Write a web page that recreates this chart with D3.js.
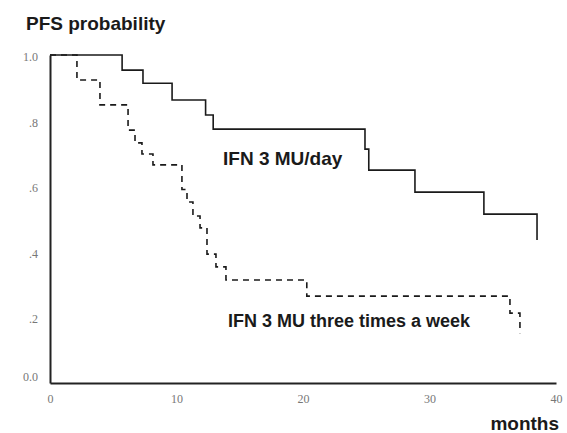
<!DOCTYPE html>
<html>
<head>
<meta charset="utf-8">
<script src="https://cdn.jsdelivr.net/npm/d3@7"></script>
<style>
  body { margin: 0; background: #fff; }
  .lbl { font-family: "Liberation Sans", Arial, sans-serif; font-weight: bold; fill: #1a1a1a; }
  .axis text { font-family: "Liberation Serif", "DejaVu Serif", serif; fill: #777; font-size: 12px; }
</style>
</head>
<body>
<div id="chart"></div>
<script>
// months at each event and survival level after it
var dailyMonths = [0, 5.7, 7.35, 9.65, 12.3, 12.9, 24.9, 25.2, 28.85, 34.3, 38.5];
var dailySurv   = [1.0, 0.954, 0.914, 0.863, 0.817, 0.774, 0.713, 0.649, 0.582, 0.515, 0.436];

var weeklyMonths = [0, 2.13, 3.95, 6.17, 6.72, 7.27, 8.14, 10.43, 10.83, 11.3, 11.86, 12.41, 13.12, 13.91, 20.3, 36.36, 37.15];
var weeklySurv   = [1.0, 0.924, 0.848, 0.771, 0.732, 0.698, 0.665, 0.59, 0.552, 0.509, 0.473, 0.393, 0.354, 0.314, 0.265, 0.213, 0.152];

var xTicks = [0, 10, 20, 30, 40];
var yTicks = [0, 0.2, 0.4, 0.6, 0.8, 1.0];
var yTickLabels = ["0.0", ".2", ".4", ".6", ".8", "1.0"];

var W = 567, H = 433;
var margin = {top: 55, left: 50, right: 11, bottom: 50},
    width  = W - margin.left - margin.right,
    height = H - margin.top - margin.bottom;

var svg = d3.select("#chart").append("svg")
    .attr("width", W)
    .attr("height", H);

var g = svg.append("g").attr("transform", "translate(" + margin.left + "," + margin.top + ")");

var x = d3.scaleLinear().domain([0, 40]).range([0, 506]),
    y = d3.scaleLinear().domain([0, 1]).range([height, 0]);

// axes
var xAxis = g.append("g")
  .attr("class", "axis")
  .attr("transform", "translate(0," + height + ")")
  .call(d3.axisBottom(x).tickValues(xTicks).tickSize(0).tickSizeOuter(0).tickPadding(11));
xAxis.select(".domain").attr("stroke", "#222").attr("stroke-width", 2);

var yAxis = g.append("g")
  .attr("class", "axis")
  .call(d3.axisLeft(y).tickValues(yTicks).tickSize(0).tickSizeOuter(0).tickPadding(12)
    .tickFormat(function(d, i) { return yTickLabels[i]; }));
yAxis.select(".domain").attr("stroke", "#222").attr("stroke-width", 2);
yAxis.selectAll(".tick text").attr("dy", function(d) { return d === 0 ? "-0.2em" : "0.45em"; });

// survival curves
var line = d3.line()
    .x(function(d) { return x(d[0]); })
    .y(function(d) { return y(d[1]); })
    .curve(d3.curveStepAfter);

g.append("path")
  .datum(d3.zip(dailyMonths, dailySurv))
  .attr("fill", "none")
  .attr("stroke", "#1a1a1a")
  .attr("stroke-width", 1.6)
  .attr("d", line);

g.append("path")
  .datum(d3.zip(weeklyMonths, weeklySurv))
  .attr("fill", "none")
  .attr("stroke", "#1a1a1a")
  .attr("stroke-width", 1.6)
  .attr("stroke-dasharray", "6,5")
  .attr("d", line);

// labels
svg.append("text").attr("class", "lbl")
  .attr("x", 26).attr("y", 30)
  .style("font-size", "19px")
  .text("PFS probability");

svg.append("text").attr("class", "lbl")
  .attr("x", 559).attr("y", 430)
  .attr("text-anchor", "end")
  .style("font-size", "19px")
  .text("months");

svg.append("text").attr("class", "lbl")
  .attr("x", 223).attr("y", 165)
  .style("font-size", "19px")
  .text("IFN 3 MU/day");

svg.append("text").attr("class", "lbl")
  .attr("x", 228).attr("y", 327)
  .style("font-size", "18px")
  .text("IFN 3 MU three times a week");
</script>
</body>
</html>
